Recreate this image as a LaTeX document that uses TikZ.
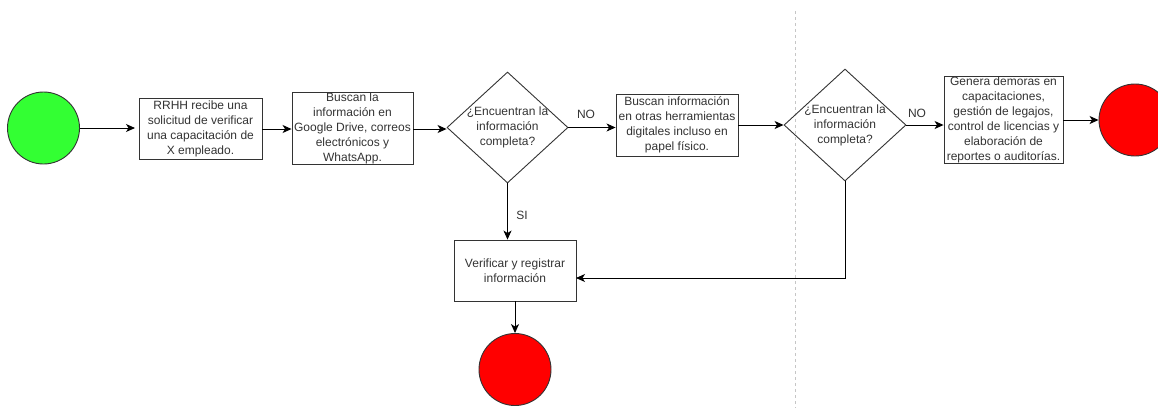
\documentclass[tikz,border=0pt]{standalone}
\usepackage{fontspec}
\setmainfont{Liberation Sans}
\usetikzlibrary{shapes.geometric,arrows.meta}
\definecolor{startgreen}{HTML}{33FF33}
\definecolor{endred}{HTML}{FF0000}
\definecolor{linegray}{HTML}{333333}
\begin{document}
\begin{tikzpicture}[x=1pt,y=-1pt,
  txt/.style={font=\fontsize{12}{15}\selectfont, align=center, text=linegray},
  box/.style={txt, draw=linegray, line width=0.9pt, rectangle, inner sep=0pt},
  decision/.style={draw=linegray, line width=0.9pt, diamond, inner sep=0pt, aspect=1},
  circ/.style={draw=linegray, line width=0.9pt, circle, minimum size=72pt, inner sep=0pt},
  arr/.style={draw=black, line width=0.9pt, -{Stealth[length=9pt,width=8pt,inset=2.5pt]}},
  lbl/.style={font=\fontsize{12}{14}\selectfont, text=linegray}]
\useasboundingbox (0,0) rectangle (1158,408);
\clip (0,0) rectangle (1158,408);

\draw[gray!45, line width=0.6pt, dash pattern=on 3pt off 3pt] (795,11) -- (795,408);

\node[circ, fill=startgreen] (start) at (43.5,128) {};
\node[box, minimum width=123pt, minimum height=61pt] (b1) at (200.5,128.5)
  {RRHH recibe una\\solicitud de verificar\\una capacitación de\\X empleado.};
\node[box, minimum width=121pt, minimum height=72pt] (b2) at (352.5,128)
  {Buscan la\\información en\\Google Drive, correos\\electrónicos y\\WhatsApp.};
\node[decision, minimum width=121pt, minimum height=111pt,
  label={[txt]center:¿Encuentran la\\información\\completa?}] (d1) at (507.5,127.5) {};
\node[box, minimum width=122pt, minimum height=62pt] (b3) at (677,125)
  {Buscan información\\en otras herramientas\\digitales incluso en\\papel físico.};
\node[decision, minimum width=122pt, minimum height=112pt,
  label={[txt]center:¿Encuentran la\\información\\completa?}] (d2) at (845,125) {};
\node[box, minimum width=119pt, minimum height=86pt] (b4) at (1003.5,120)
  {Genera demoras en\\capacitaciones,\\gestión de legajos,\\control de licencias y\\elaboración de\\reportes o auditorías.};
\node[circ, fill=endred] (e1) at (1135,120) {};
\node[box, minimum width=122pt, minimum height=61pt] (b5) at (515,270.5)
  {Verificar y registrar\\información};
\node[circ, fill=endred] (e2) at (515,369.5) {};
\coordinate (k) at (576,278);
\coordinate (s1) at (135,128);

\draw[arr] (start.east) -- (s1);
\draw[arr] (b1.east |- 0,129) -- (b2.west |- 0,129);
\draw[arr] (b2.east |- 0,129) -- (d1.west |- 0,129);
\draw[arr] (d1.east) -- (d1.east -| b3.west);
\draw[arr] (b3.east |- d2.west) -- (d2.west);
\draw[arr] (d2.east) -- (d2.east -| b4.west);
\draw[arr] (b4) -- (e1);
\draw[arr] (d1.south) -- (d1.south |- b5.north);
\draw[arr] (b5) -- (e2);
\draw[arr] (d2.south) |- (k);

\node[lbl] (no1) at (586,114) {NO};
\node[lbl] (no2) at (917,113) {NO};
\node[lbl] (si) at (522,215) {SI};
\end{tikzpicture}
\end{document}
